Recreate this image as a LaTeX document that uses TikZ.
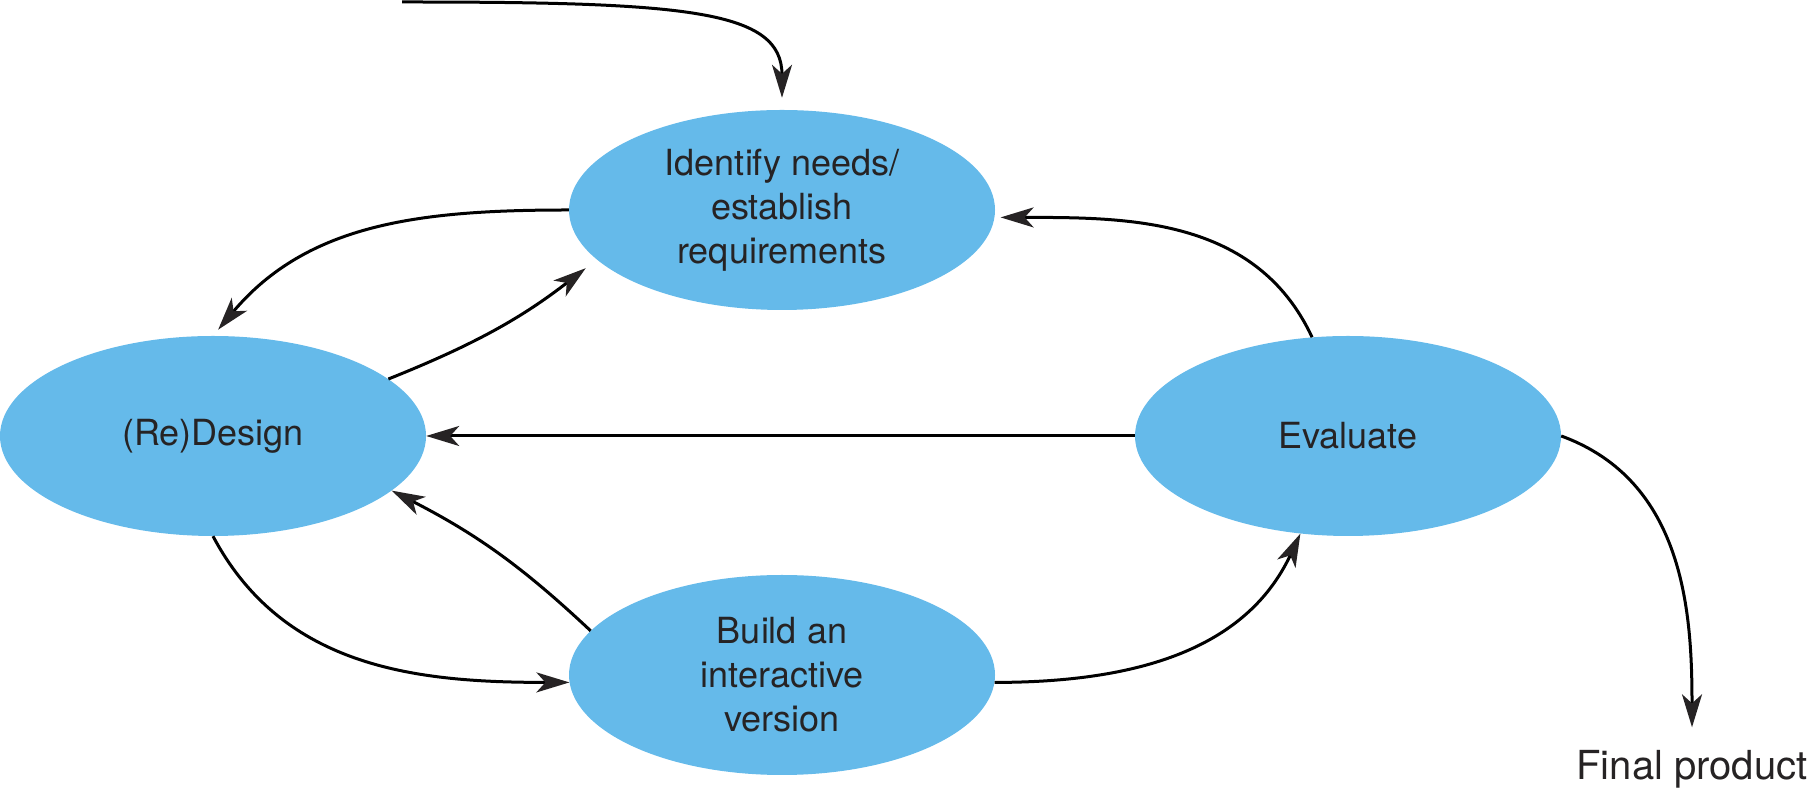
\documentclass[tikz,border=0pt]{standalone}
\usepackage{fontspec}
\setmainfont{TeX Gyre Heros}
\usetikzlibrary{shapes.geometric}
\usetikzlibrary{arrows.meta}
\definecolor{stageblue}{RGB}{101,186,234}
\definecolor{inkgray}{RGB}{38,35,36}

\begin{document}
\begin{tikzpicture}[x=1pt,y=1pt,
  stage/.style={ellipse, fill=stageblue, minimum width=426pt, minimum height=200pt, inner sep=0pt,
    align=center, text=inkgray, font=\fontsize{36}{44}\selectfont},
  flow/.style={black, line width=3pt, -{Stealth[length=33pt,width=20pt,inset=9pt,color=inkgray]}}]
\useasboundingbox (0,0) rectangle (1811,799);
\node[stage] (idn) at (782,589) {Identify needs/\\establish\\requirements};
\node[stage] (rd) at (213,363) {(Re)Design};
\node[stage] (ev) at (1348,363) {Evaluate};
\node[stage] (bld) at (782,124) {Build an\\interactive\\version};
\node[text=inkgray, font=\fontsize{40}{48}\selectfont, anchor=base] (fp) at (1692,19) {Final product};
\coordinate (entry) at (402,797);
\draw[flow, shorten >=12pt] (entry) .. controls +(285,0) and +(0,100) .. (idn.north);
\draw[flow, shorten >=8pt] (idn.west) to[out=180,in=50] (rd.north);
\draw[flow, shorten >=14pt] (rd.18) to[bend right=8] (idn.195);
\draw[flow, shorten >=6pt] (ev.110) to[out=115,in=0] (idn.-2);
\draw[flow] (ev.west) -- (rd.east);
\draw[flow] (bld.167) to[bend right=8] (rd.-17);
\draw[flow] (rd.south) to[out=-62,in=180] (bld.182);
\draw[flow] (bld.-2) to[out=0,in=-115] (ev.244);
\draw[flow, shorten >=20pt] (ev.east) to[out=-20,in=90] (fp.north);
\end{tikzpicture}
\end{document}
